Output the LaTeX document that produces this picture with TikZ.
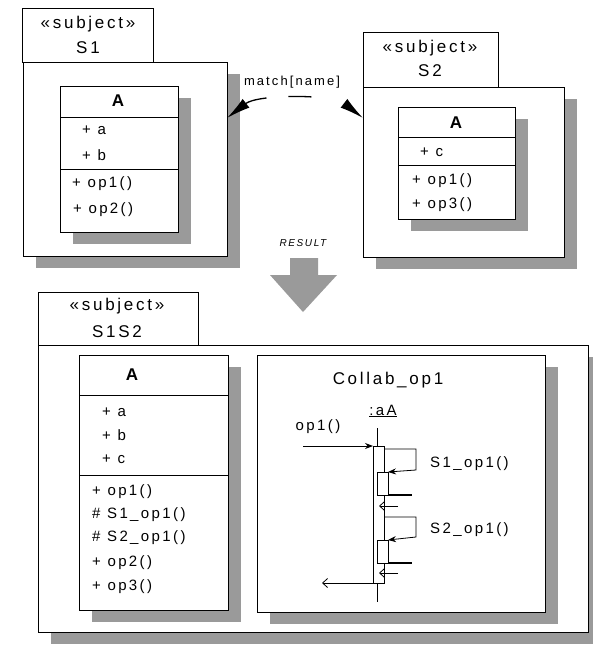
\documentclass[tikz,border=0pt]{standalone}
\usepackage{fontspec}
\setmainfont{Liberation Sans}[LetterSpace=16]
\usetikzlibrary{shadows,arrows.meta}
\definecolor{shadowgray}{HTML}{9A9A9A}
\tikzset{
  box/.style={draw=black, line width=1pt, fill=white, inner sep=0pt, outer sep=0pt, anchor=north west},
  shbox/.style={box, drop shadow={shadow xshift=13pt, shadow yshift=-12pt, fill=shadowgray, opacity=1}},
  txt/.style={inner sep=0pt, font=\fontsize{15}{18}\selectfont},
  ltxt/.style={txt, anchor=west},
  ttl/.style={inner sep=0pt, font=\fontsize{17}{20}\selectfont},
  cname/.style={inner sep=0pt, font=\fontsize{17}{20}\selectfont\bfseries},
  divider/.style={line width=1pt},
  seq/.style={line width=0.8pt},
  fillarrow/.style={-{Stealth[length=8pt,width=6pt]}},
  openarrow/.style={-{Straight Barb[length=5pt,width=9pt]}},
}
\begin{document}
\begin{tikzpicture}[x=1pt,y=-1pt]
\useasboundingbox (0,0) rectangle (593,646);
\fill[white] (0,0) rectangle (593,646);
\clip (0,0) rectangle (593,646);

% ---------- S1 ----------
\node[box, minimum width=131pt, minimum height=54pt] (s1tab) at (22,8) {};
\node[ttl] (s1st) at (88,24) {«subject»};
\node[ttl] (s1nm) at (88,48) {S1};
\node[shbox, minimum width=204pt, minimum height=194pt] (s1) at (23,62) {};
\node[shbox, minimum width=118pt, minimum height=146pt] (c1) at (60,86) {};
\draw[divider] (60,117) -- (178,117);
\draw[divider] (60,169) -- (178,169);
\node[cname] (c1n) at (118,101) {A};
\node[ltxt] (c1a) at (82,130) {+ a};
\node[ltxt] (c1b) at (82,155) {+ b};
\node[ltxt] (c1o1) at (72,184) {+ op1()};
\node[ltxt] (c1o2) at (73,210) {+ op2()};

% ---------- S2 ----------
\node[box, minimum width=135pt, minimum height=55pt] (s2tab) at (363,32) {};
\node[ttl] (s2st) at (430,48) {«subject»};
\node[ttl] (s2nm) at (430,71) {S2};
\node[shbox, minimum width=201pt, minimum height=170pt] (s2) at (363,87) {};
\node[shbox, minimum width=117pt, minimum height=112pt] (c2) at (398,107) {};
\draw[divider] (398,137) -- (515,137);
\draw[divider] (398,165) -- (515,165);
\node[cname] (c2n) at (456,123) {A};
\node[ltxt] (c2c) at (420,152) {+ c};
\node[ltxt] (c2o1) at (412,181) {+ op1()};
\node[ltxt] (c2o3) at (412,205) {+ op3()};

% ---------- match connector ----------
\node[inner sep=0pt, font=\fontsize{13}{15}\selectfont] (match) at (292,82) {match[name]};
\coordinate (mL) at (227,118);
\coordinate (mR) at (363,118);
\draw[line width=1.3pt, dash pattern=on 22pt off 22pt on 23pt off 40pt,
      {Latex[length=24pt,width=11pt]}-{Latex[length=24pt,width=11pt]}]
  (mL) .. controls (258,94) and (332,94) .. (mR);

% ---------- RESULT ----------
\node[inner sep=0pt, font=\fontsize{10}{12}\selectfont\itshape] (res) at (303,243) {RESULT};
\fill[shadowgray] (290,258) -- (318,258) -- (318,275) -- (337,275) -- (303,312) -- (270,275) -- (290,275) -- cycle;

% ---------- S1S2 ----------
\node[box, minimum width=160pt, minimum height=53pt] (s3tab) at (38,292) {};
\node[ttl] (s3st) at (117,306) {«subject»};
\node[ttl] (s3nm) at (117,332) {S1S2};
\node[shbox, minimum width=550pt, minimum height=287pt] (s3) at (38,345) {};

\node[shbox, minimum width=149pt, minimum height=255pt] (c3) at (79,355) {};
\draw[divider] (79,395) -- (228,395);
\draw[divider] (79,475) -- (228,475);
\node[cname] (c3n) at (132,375) {A};
\node[ltxt] (c3a) at (102,412) {+ a};
\node[ltxt] (c3b) at (102,435) {+ b};
\node[ltxt] (c3c) at (102,459) {+ c};
\node[ltxt] (c3o1) at (92,492) {+ op1()};
\node[ltxt] (c3s1) at (92,515) {\# S1\_op1()};
\node[ltxt] (c3s2) at (92,538) {\# S2\_op1()};
\node[ltxt] (c3o2) at (92,563) {+ op2()};
\node[ltxt] (c3o3) at (92,587) {+ op3()};

% ---------- Collaboration ----------
\node[shbox, minimum width=288pt, minimum height=257pt] (col) at (257,355) {};
\node[ttl] (colt) at (388,380) {Collab\_op1};
\node[txt] (obj) at (383,411) {\underline{:aA}};
\node[txt] (op1) at (318,427) {op1()};

\coordinate (lt) at (377,428);
\coordinate (lb) at (377,602);
\draw[seq] (lt) -- (lb);
\node[box, line width=0.8pt, minimum width=11pt, minimum height=137pt] (act) at (373,446) {};
\coordinate (inS) at (303,446);
\draw[seq, fillarrow] (inS) -- (act.north west);

% self call 1
\node[box, line width=0.8pt, minimum width=11pt, minimum height=23pt] (n1) at (377,472) {};
\draw[seq, fillarrow] (act.north east) ++(0,3) -- (416,449) -- (416,470) -- (n1.north east);
\node[ltxt] (l1) at (430,464) {S1\_op1()};
\coordinate (r1a) at (412,495);
\draw[line width=1.6pt] (n1.south east) -- (r1a);
\coordinate (r1s) at (398,506);
\coordinate (r1e) at (379,506);
\draw[seq, openarrow] (r1s) -- (r1e);

% self call 2
\node[box, line width=0.8pt, minimum width=11pt, minimum height=23pt] (n2) at (377,540) {};
\draw[seq, fillarrow] (384,517) -- (416,517) -- (416,537) -- (n2.north east);
\node[ltxt] (l2) at (430,530) {S2\_op1()};
\coordinate (r2a) at (412,563);
\draw[line width=1.6pt] (n2.south east) -- (r2a);
\coordinate (r2s) at (398,573);
\coordinate (r2e) at (379,573);
\draw[seq, openarrow] (r2s) -- (r2e);

% final return
\coordinate (outE) at (322,583);
\draw[seq, openarrow] (act.south east) -- (outE);
\end{tikzpicture}
\end{document}
